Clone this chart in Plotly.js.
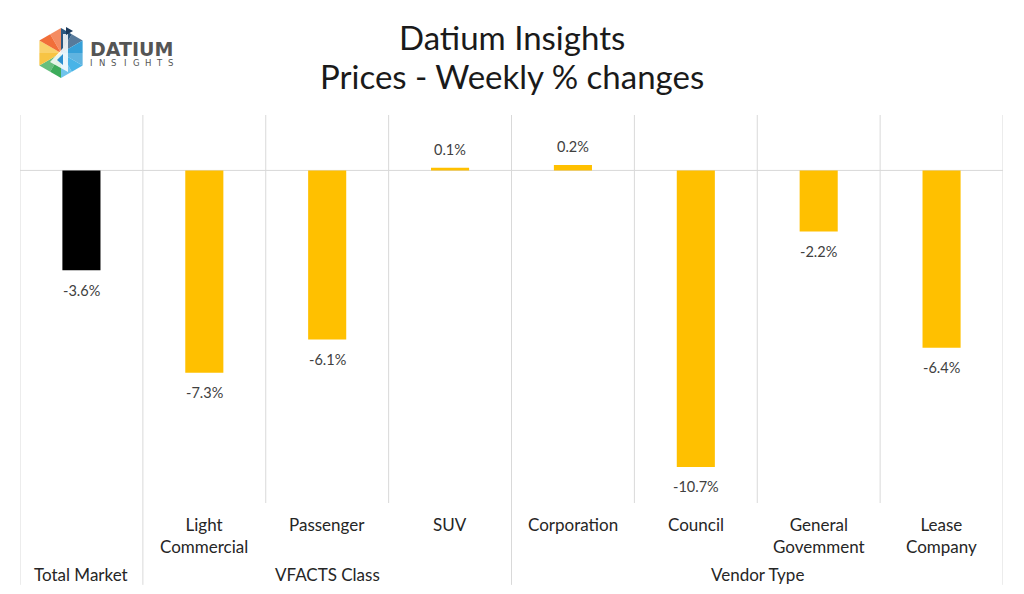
<!DOCTYPE html>
<html>
<head>
<meta charset="utf-8">
<script src="https://cdn.plot.ly/plotly-3.0.1.min.js"></script>
<style>html,body{margin:0;padding:0;background:#fff;}#chart{width:1024px;height:594px;}</style>
</head>
<body>
<div id="chart"></div>
<script>
// Data
var categories = ["Total Market", "Light<br>Commercial", "Passenger", "SUV", "Corporation", "Council", "General<br>Govemment", "Lease<br>Company"];
var groups = ["", "VFACTS Class", "VFACTS Class", "VFACTS Class", "Vendor Type", "Vendor Type", "Vendor Type", "Vendor Type"];
var values = [-3.6, -7.3, -6.1, 0.1, 0.2, -10.7, -2.2, -6.4];
var barColors = ["#000000", "#FFC000", "#FFC000", "#FFC000", "#FFC000", "#FFC000", "#FFC000", "#FFC000"];
var titleLines = ["Datium Insights", "Prices - Weekly % changes"];

var FONT = "Lato, 'Open Sans', sans-serif";
var xs = values.map(function(v, i){ return i + 0.5; });

var trace = {
  type: "bar",
  x: xs,
  y: values,
  marker: {color: barColors, line: {width: 0}},
  width: 0.31,
  hoverinfo: "skip"
};

var shapes = [];
var annotations = [];
// category separators
for (var i = 0; i <= categories.length; i++) {
  var isGroupEdge = (i === 0 || i === categories.length || (i < categories.length && groups[i] !== groups[i-1]));
  shapes.push({type: "line", xref: "x", yref: "paper", x0: i, x1: i, y0: isGroupEdge ? -0.211 : 0, y1: 1,
    line: {color: "#D9D9D9", width: 1}, layer: "below"});
}
// zero line
shapes.push({type: "line", xref: "paper", yref: "y", x0: 0, x1: 1, y0: 0, y1: 0, line: {color: "#D9D9D9", width: 1}, layer: "below"});

// category labels and value labels
categories.forEach(function(c, i){
  if (groups[i] !== "") {
    annotations.push({xref: "x", yref: "paper", x: i + 0.5, y: -0.022, yanchor: "top", text: c, showarrow: false,
      font: {family: FONT, size: 17, color: "#262626"}});
  }
  var v = values[i];
  annotations.push({xref: "x", yref: "y", x: i + 0.5, y: v, text: v.toFixed(1) + "%", showarrow: false,
    yanchor: "middle", yshift: v < 0 ? -20 : 18, font: {family: FONT, size: 14.5, color: "#404040"}});
});
// group labels
var seen = {};
groups.forEach(function(g, i){
  var key = g === "" ? categories[i] : g;
  if (seen[key]) return;
  var n = groups.filter(function(h){ return h === g; }).length;
  if (g === "") n = 1;
  seen[key] = true;
  annotations.push({xref: "x", yref: "paper", x: i + n / 2, y: -0.185, yanchor: "middle", text: key, showarrow: false,
    font: {family: FONT, size: 17, color: "#262626"}});
});

// pixel -> paper helper (plot area: x 20..1003, y 115..503)
function P(px, py){ return [(px - 20) / 983, (503 - py) / 388]; }

// title (two centred lines)
titleLines.forEach(function(t, k){
  var q = P(512, k === 0 ? 37 : 76);
  annotations.push({xref: "paper", yref: "paper", x: q[0], y: q[1], xanchor: "center", yanchor: "middle",
    text: t, showarrow: false, font: {family: FONT, size: 33, color: "#1a1a1a"}});
});

// logo (approximation with shapes)
var cx = 61, cy = 53, r = 25;
var pts = [];
for (var k = 0; k < 6; k++) {
  var a = Math.PI / 180 * (-90 + 60 * k);
  pts.push([cx + r * Math.cos(a), cy + r * Math.sin(a)]);
}
var sectorColors = ["#1F4E79", "#2B9BD6", "#3FB0E6", "#33A852", "#F7C13A", "#F0662E"];
for (var k = 0; k < 6; k++) {
  var p1 = pts[k], p2 = pts[(k + 1) % 6];
  var c0 = P(cx, cy), q1 = P(p1[0], p1[1]), q2 = P(p2[0], p2[1]);
  var mid = P((p1[0] + p2[0]) / 2, (p1[1] + p2[1]) / 2);
  shapes.push({type: "path", xref: "paper", yref: "paper",
    path: "M" + c0[0] + "," + c0[1] + " L" + q1[0] + "," + q1[1] + " L" + mid[0] + "," + mid[1] + " Z",
    fillcolor: sectorColors[k], line: {width: 0}, opacity: 0.95});
  shapes.push({type: "path", xref: "paper", yref: "paper",
    path: "M" + c0[0] + "," + c0[1] + " L" + mid[0] + "," + mid[1] + " L" + q2[0] + "," + q2[1] + " Z",
    fillcolor: sectorColors[k], line: {width: 0}, opacity: 0.75});
}
shapes.push({type: "path", xref: "paper", yref: "paper",
  path: "M" + P(63,34)[0] + "," + P(63,34)[1] + " L" + P(68,34)[0] + "," + P(68,34)[1] + " L" + P(68,72)[0] + "," + P(68,72)[1] + " L" + P(50,62)[0] + "," + P(50,62)[1] + " L" + P(63,48)[0] + "," + P(63,48)[1] + " Z",
  fillcolor: "rgba(255,255,255,0.85)", line: {width: 0}});
shapes.push({type: "path", xref: "paper", yref: "paper",
  path: "M" + P(57,60)[0] + "," + P(57,60)[1] + " L" + P(63,54)[0] + "," + P(63,54)[1] + " L" + P(63,65)[0] + "," + P(63,65)[1] + " Z",
  fillcolor: "#2B8FD0", line: {width: 0}});
shapes.push({type: "path", xref: "paper", yref: "paper",
  path: "M" + P(66,27)[0] + "," + P(66,27)[1] + " L" + P(73,31)[0] + "," + P(73,31)[1] + " L" + P(66,35)[0] + "," + P(66,35)[1] + " Z",
  fillcolor: "#1B3A5C", line: {width: 0}});

var lt = P(88, 49);
annotations.push({xref: "paper", yref: "paper", x: lt[0], y: lt[1], xanchor: "left", yanchor: "middle",
  text: "<b>DATIUM</b>", showarrow: false, font: {family: "'DejaVu Sans', sans-serif", size: 19, color: "#555555"}});
var logoSub = "INSIGHTS".split("");
logoSub.forEach(function(ch, k){
  var q = P(91 + k * 11.4, 63);
  annotations.push({xref: "paper", yref: "paper", x: q[0], y: q[1], xanchor: "center", yanchor: "middle",
    text: ch, showarrow: false, font: {family: "'DejaVu Sans', sans-serif", size: 8.5, color: "#555555"}});
});

var layout = {
  width: 1024, height: 594,
  margin: {l: 20, r: 21, t: 115, b: 91},
  paper_bgcolor: "#ffffff", plot_bgcolor: "#ffffff",
  xaxis: {range: [0, 8], showgrid: false, zeroline: false, showticklabels: false, ticks: "", fixedrange: true},
  yaxis: {range: [-12, 2], showgrid: false, zeroline: false, showticklabels: false, ticks: "", fixedrange: true},
  showlegend: false,
  shapes: shapes,
  annotations: annotations
};

Plotly.newPlot("chart", [trace], layout, {displayModeBar: false, staticPlot: true});
</script>
</body>
</html>
